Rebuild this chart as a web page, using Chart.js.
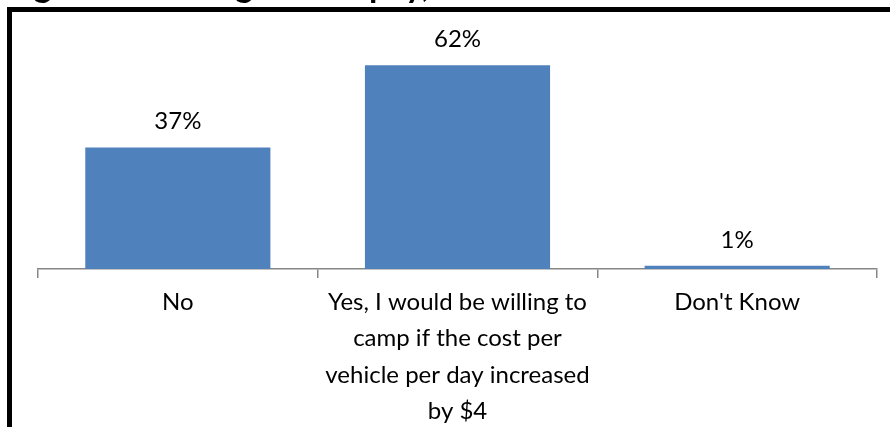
<!DOCTYPE html>
<html>
<head>
<meta charset="utf-8">
<script src="https://cdn.jsdelivr.net/npm/chart.js@4/dist/chart.umd.min.js"></script>
<style>
  body { margin: 0; background: #fff; }
  canvas { display: block; }
</style>
</head>
<body>
<canvas id="campChart" width="890" height="427"></canvas>
<script>
// Data
const categories = [
    "No",
    ["Yes, I would be willing to", "camp if the cost per", "vehicle per day increased", "by $4"],
    "Don't Know"
];
const percents = [37, 62, 1];
const titleText = "Figure 6: Willingness to pay, overall";

// Title sits above the frame and is cut off by the top edge
const titlePlugin = {
    id: "cutTitle",
    beforeDraw(chart) {
        const ctx = chart.ctx;
        ctx.save();
        ctx.fillStyle = "#000";
        ctx.font = "bold 34px Lato";
        ctx.textBaseline = "alphabetic";
        ctx.textAlign = "left";
        ctx.fillText(titleText, 6, -3.5);
        // frame around the chart, runs off right and bottom
        ctx.strokeStyle = "#000";
        ctx.lineWidth = 5;
        ctx.strokeRect(9.5, 9.5, 1000, 1000);
        ctx.restore();
    }
};

// Value labels above the bars
const valueLabels = {
    id: "valueLabels",
    afterDatasetsDraw(chart) {
        const ctx = chart.ctx;
        const meta = chart.getDatasetMeta(0);
        ctx.save();
        ctx.fillStyle = "#000";
        ctx.font = "24px Lato";
        ctx.textAlign = "center";
        ctx.textBaseline = "alphabetic";
        meta.data.forEach((bar, i) => {
            ctx.fillText(percents[i] + "%", bar.x, bar.y - 18);
        });
        ctx.restore();
    }
};

let ctx = document.getElementById("campChart").getContext("2d");

new Chart(ctx, {
    type: "bar",
    data: {
        labels: categories,
        datasets: [{
            data: percents,
            backgroundColor: "#4F81BD",
            borderWidth: 0,
            barPercentage: 0.662,
            categoryPercentage: 1
        }]
    },
    options: {
        responsive: false,
        animation: false,
        layout: { padding: { left: 38, right: 13, top: 39, bottom: 0 } },
        plugins: {
            legend: { display: false },
            tooltip: { enabled: false }
        },
        scales: {
            y: {
                display: false,
                min: 0,
                max: 70
            },
            x: {
                afterFit(scale) { scale.height = 158; },
                border: { display: true, color: "#868686", width: 1.5 },
                grid: {
                    display: true,
                    offset: true,
                    drawOnChartArea: false,
                    drawTicks: true,
                    tickLength: 9,
                    color: "#868686",
                    lineWidth: 1.5
                },
                ticks: {
                    color: "#000",
                    font: { family: "Lato", size: 24, lineHeight: 1.52 },
                    padding: 6,
                    maxRotation: 0,
                    minRotation: 0,
                    autoSkip: false
                }
            }
        }
    },
    plugins: [titlePlugin, valueLabels]
});
</script>
</body>
</html>
